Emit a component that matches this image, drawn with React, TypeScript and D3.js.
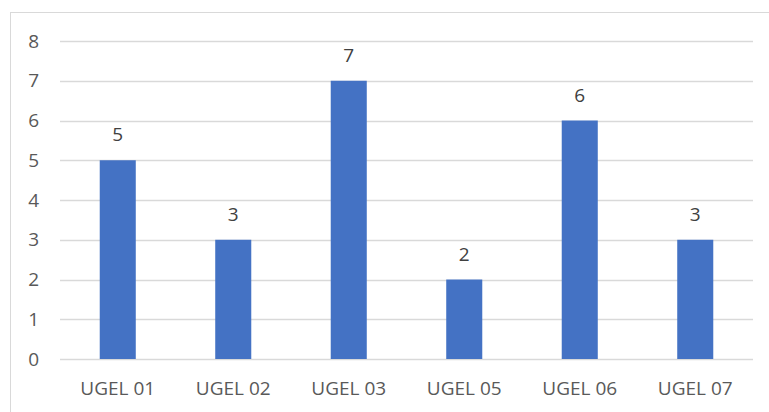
import React from "react";
import * as d3 from "d3";

const categories = ["UGEL 01", "UGEL 02", "UGEL 03", "UGEL 05", "UGEL 06", "UGEL 07"];
const values = [5, 3, 7, 2, 6, 3];
const yTicks = [0, 1, 2, 3, 4, 5, 6, 7, 8];

const W = 769;
const H = 412;
const FONT = "'Open Sans', sans-serif";

export default function App() {
  const left = 60;
  const right = 753;
  const top = 41;
  const bottom = 359;
  const inner = 0.688;

  const x = d3
    .scaleBand<string>()
    .domain(categories)
    .range([left, right])
    .paddingInner(inner)
    .paddingOuter(inner / 2);
  const y = d3.scaleLinear().domain([0, 8]).range([bottom, top]);

  return (
    <svg
      width={W}
      height={H}
      style={{ position: "absolute", left: 0, top: 0, background: "#fff" }}
      fontFamily={FONT}
    >
      <rect x={0} y={0} width={W} height={H} fill="#fff" />
      <rect x={10.5} y={12.5} width={W} height={H} fill="none" stroke="#d9d9d9" strokeWidth={1} />
      {yTicks.map((t) => (
        <g key={t}>
          <line x1={left} x2={right} y1={Math.round(y(t)) + 0.5} y2={Math.round(y(t)) + 0.5} stroke="#d9d9d9" strokeWidth={1.5} />
          <text x={39} y={y(t)} dy="0.35em" textAnchor="end" fontSize={19} fill="#595959">
            {t}
          </text>
        </g>
      ))}
      {categories.map((c, i) => (
        <g key={c}>
          <rect
            x={x(c)}
            y={y(values[i])}
            width={x.bandwidth()}
            height={y(0) - y(values[i])}
            fill="#4472C4"
          />
          <text
            x={(x(c) as number) + x.bandwidth() / 2}
            y={y(values[i]) - 19}
            textAnchor="middle"
            fontSize={19}
            fill="#404040"
          >
            {values[i]}
          </text>
          <text
            x={(x(c) as number) + x.bandwidth() / 2}
            y={388}
            dy="0.35em"
            textAnchor="middle"
            fontSize={19}
            fill="#595959"
          >
            {c}
          </text>
        </g>
      ))}
    </svg>
  );
}
